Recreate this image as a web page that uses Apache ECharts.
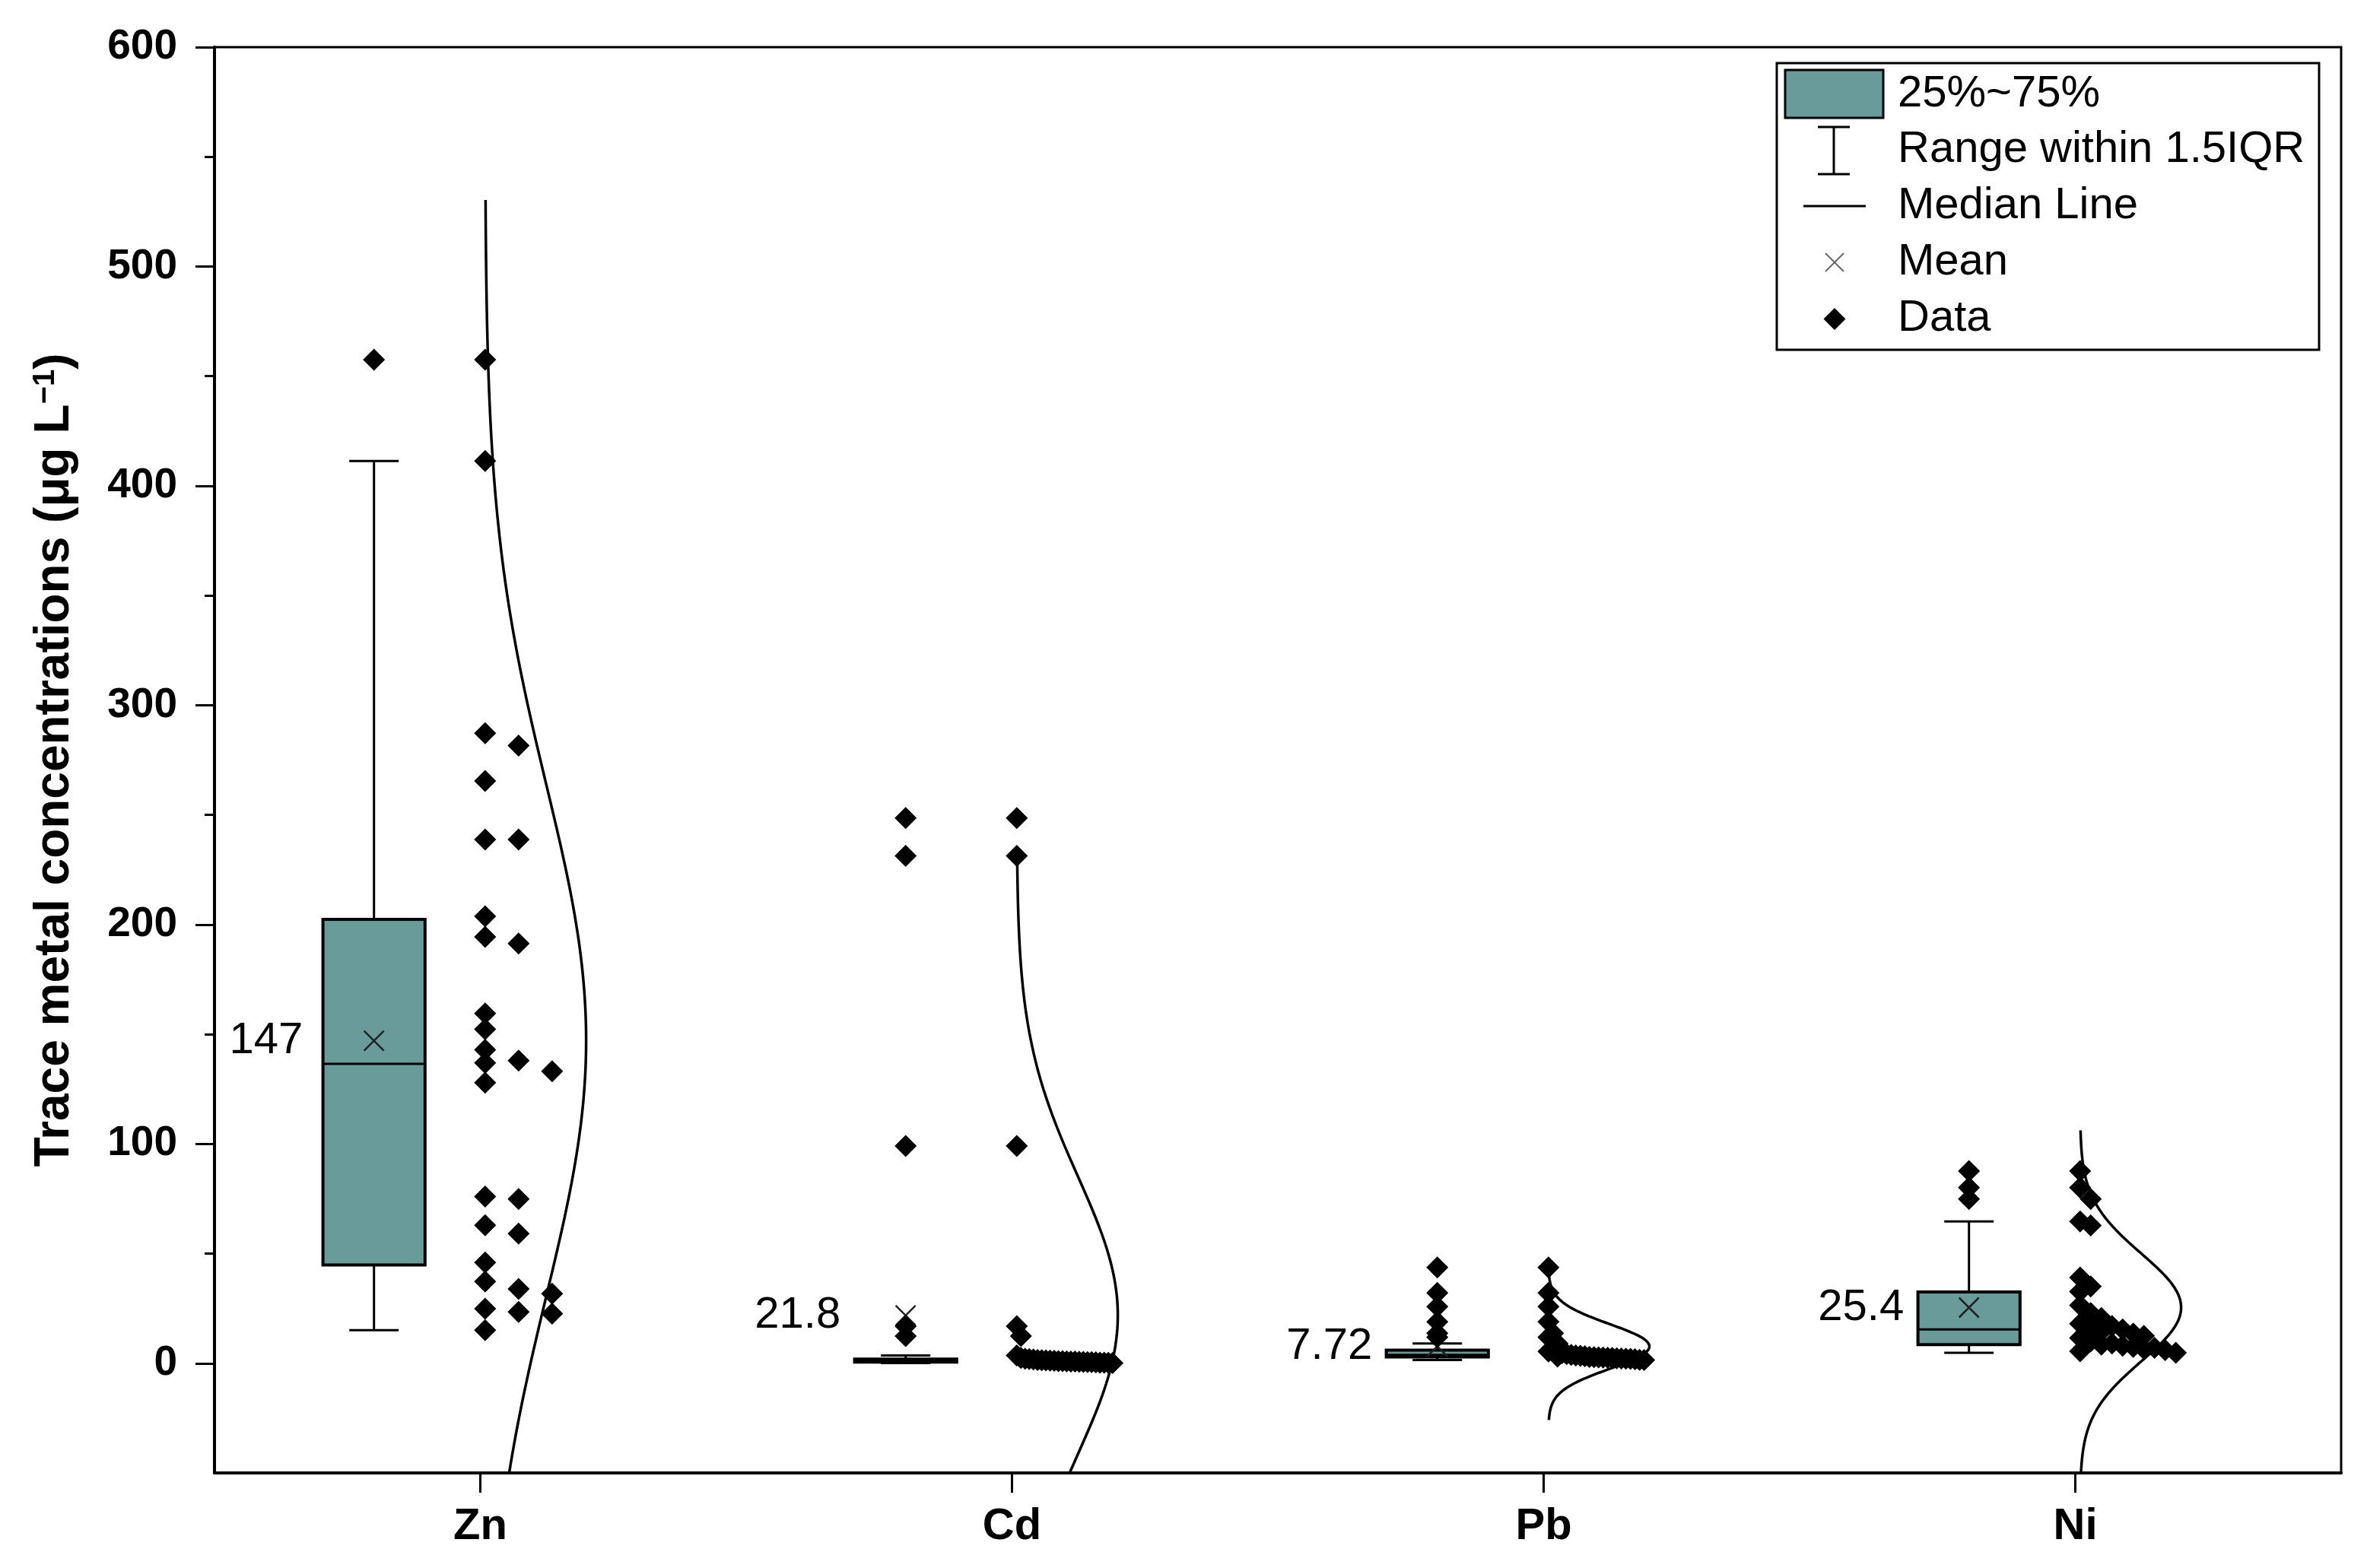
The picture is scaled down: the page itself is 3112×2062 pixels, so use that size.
<!DOCTYPE html>
<html>
<head>
<meta charset="utf-8">
<script src="https://cdn.jsdelivr.net/npm/echarts@6/dist/echarts.min.js"></script>
<style>
html,body{margin:0;padding:0;background:#fff;}
#chart{width:3112px;height:2062px;}
</style>
</head>
<body>
<div id="chart"></div>
<script>
// ---------------- data ----------------
const categories = ['Zn', 'Cd', 'Pb', 'Ni'];
const znValues = [457.5, 411.3, 287.2, 281.6, 265.5, 238.8, 238.8, 203.8, 194.4, 191.4, 159.5, 152.3, 142.9, 138.0, 136.9, 133.1, 127.9, 76.0, 74.9, 62.9, 59.1, 45.9, 37.3, 33.9, 31.7, 24.9, 23.4, 22.6, 15.1];
const cdValues = [248.6, 231.3, 99.1, 16.9, 12.4, 3.6, 2.4, 2.1, 1.9, 1.7, 1.5, 1.4, 1.3, 1.2, 1.1, 1.0, 1.0, 0.9, 0.8, 0.8, 0.7, 0.6, 0.5, 0.5, 0.4, 0.3, 0.3, 0.2, 0.1];
const pbValues = [43.7, 32.1, 25.8, 18.9, 13.7, 11.9, 9.0, 6.5, 5.4, 4.6, 4.2, 3.8, 3.6, 3.4, 3.2, 3.0, 2.9, 2.8, 2.7, 2.6, 2.5, 2.4, 2.3, 2.2, 2.1, 2.0, 1.8, 1.6, 1.5];
const niValues = [87.6, 80.1, 74.9, 64.7, 62.8, 39.1, 35.0, 32.7, 26.4, 22.9, 20.6, 18.0, 17.0, 16.0, 15.4, 14.5, 13.5, 12.5, 11.5, 10.0, 9.0, 8.5, 8.0, 7.5, 7.0, 6.5, 6.0, 5.5, 4.8];

const boxLow    = [15.1, 0.1, 1.5, 4.8];
const boxQ1     = [44.8, 0.5, 2.9, 8.5];
const boxMedian = [136.5, 1.1, 3.8, 15.4];
const boxQ3     = [202.4, 1.9, 6.0, 32.5];
const boxHigh   = [411.3, 3.6, 9.0, 64.7];
const meanValues = [147, 21.8, 7.72, 25.4];
const meanLabels = ['147', '21.8', '7.72', '25.4'];

const yTickValues = [0, 100, 200, 300, 400, 500, 600];
const yMinorTickValues = [50, 150, 250, 350, 450, 550];
const legendLabels = ['25%~75%', 'Range within 1.5IQR', 'Median Line', 'Mean', 'Data'];
const yTitle = 'Trace metal concentrations (μg L';
const yTitleSup = '−1';

// ---------------- layout / style constants ----------------
const groups = [znValues, cdValues, pbValues, niValues];
const FONT = '"Liberation Sans", Arial, Helvetica, sans-serif';
const TEAL = '#699b9a';
const BOX_OFF = -0.2, BOX_HALF = 0.096, CAP_HALF = 0.0465;
const SWARM_X0 = 0.009, SWARM_STEP = 0.063, SWARM_MAXW = 0.18, MIN_DIST = 6;
const CURVE_X0 = 0.009, CURVE_AMP = 0.19, CURVE_Z = 3.29;
const LABEL_OFF = -0.403;

// beeswarm placement computed from the values
function swarm(values, idx) {
  const sorted = values.slice().sort((a, b) => b - a);
  const cols = [];
  const assign = [];
  for (const v of sorted) {
    let k = 0;
    while (k < cols.length && cols[k] - v < MIN_DIST) k++;
    cols[k] = v;
    assign.push([v, k]);
  }
  const maxK = Math.max(...assign.map(a => a[1]));
  const step = maxK > 0 ? Math.min(SWARM_STEP, SWARM_MAXW / maxK) : SWARM_STEP;
  return assign.map(([v, k]) => [idx + SWARM_X0 + k * step, v]);
}

// fitted normal curve (from data mean / sd), drawn as half-violin
function normalCurve(values, idx) {
  const n = values.length;
  const m = values.reduce((a, b) => a + b, 0) / n;
  const sd = Math.sqrt(values.reduce((a, b) => a + (b - m) * (b - m), 0) / (n - 1));
  const pts = [];
  const N = 400;
  for (let j = 0; j <= N; j++) {
    const y = m - CURVE_Z * sd + (2 * CURVE_Z * sd) * j / N;
    const z = (y - m) / sd;
    pts.push([idx + CURVE_X0 + CURVE_AMP * Math.exp(-0.5 * z * z), y]);
  }
  return pts;
}

const boxData = categories.map((c, i) => [i, boxLow[i], boxQ1[i], boxMedian[i], boxQ3[i], boxHigh[i], meanValues[i]]);
const outlierData = [];
groups.forEach((vals, i) => {
  vals.forEach(v => { if (v > boxHigh[i] || v < boxLow[i]) outlierData.push([i + BOX_OFF, v]); });
});
const swarmData = [];
groups.forEach((vals, i) => swarm(vals, i).forEach(p => swarmData.push(p)));

const series = [];
series.push({
  type: 'custom',
  xAxisIndex: 1, yAxisIndex: 0,
  z: 2, clip: true,
  encode: { x: 0, y: [1, 2, 3, 4, 5] },
  data: boxData,
  renderItem: function (params, api) {
    const i = api.value(0);
    const xc = i + BOX_OFF;
    const c = api.coord([xc, 0])[0];
    const l = api.coord([xc - BOX_HALF, 0])[0];
    const r = api.coord([xc + BOX_HALF, 0])[0];
    const cl = api.coord([xc - CAP_HALF, 0])[0];
    const cr = api.coord([xc + CAP_HALF, 0])[0];
    const yLow = api.coord([xc, api.value(1)])[1];
    const yQ1 = api.coord([xc, api.value(2)])[1];
    const yMed = api.coord([xc, api.value(3)])[1];
    const yQ3 = api.coord([xc, api.value(4)])[1];
    const yHigh = api.coord([xc, api.value(5)])[1];
    const yMean = api.coord([xc, api.value(6)])[1];
    const lx = api.coord([i + LABEL_OFF, 0])[0];
    const lw = { stroke: '#000', lineWidth: 3 };
    const h = 13;
    return {
      type: 'group',
      children: [
        { type: 'line', shape: { x1: c, y1: yLow, x2: c, y2: yQ1 }, style: lw },
        { type: 'line', shape: { x1: c, y1: yQ3, x2: c, y2: yHigh }, style: lw },
        { type: 'line', shape: { x1: cl, y1: yLow, x2: cr, y2: yLow }, style: lw },
        { type: 'line', shape: { x1: cl, y1: yHigh, x2: cr, y2: yHigh }, style: lw },
        { type: 'rect', shape: { x: l, y: yQ3, width: r - l, height: yQ1 - yQ3 }, style: { fill: TEAL, stroke: '#000', lineWidth: 4 } },
        { type: 'line', shape: { x1: l, y1: yMed, x2: r, y2: yMed }, style: lw },
        { type: 'line', shape: { x1: c - h, y1: yMean - h, x2: c + h, y2: yMean + h }, style: { stroke: '#222', lineWidth: 2.5 } },
        { type: 'line', shape: { x1: c - h, y1: yMean + h, x2: c + h, y2: yMean - h }, style: { stroke: '#222', lineWidth: 2.5 } },
        { type: 'text', style: { text: meanLabels[params.dataIndex], x: lx, y: yMean, fill: '#000', fontSize: 58, fontFamily: FONT, align: 'center', verticalAlign: 'middle' } }
      ]
    };
  }
});
groups.forEach((vals, i) => {
  series.push({
    type: 'line', xAxisIndex: 1, yAxisIndex: 0, z: 2,
    data: normalCurve(vals, i), showSymbol: false, symbol: 'none', clip: true,
    lineStyle: { color: '#000', width: 3.5 }, silent: true
  });
});
series.push({
  type: 'scatter', xAxisIndex: 1, yAxisIndex: 0, z: 3,
  symbol: 'diamond', symbolSize: 29, data: outlierData,
  itemStyle: { color: '#000', opacity: 1 }
});
series.push({
  type: 'scatter', xAxisIndex: 1, yAxisIndex: 0, z: 3,
  symbol: 'diamond', symbolSize: 29, data: swarmData,
  itemStyle: { color: '#000', opacity: 1 }
});

// legend drawn as graphic
const LX = 2336, LY = 83, LW = 713, LH = 377;
const rowY = [124, 197, 271, 345, 419];
const legendGraphic = [
  { type: 'rect', shape: { x: LX, y: LY, width: LW, height: LH }, style: { fill: '#fff', stroke: '#000', lineWidth: 3 } },
  { type: 'rect', shape: { x: 2347, y: 92, width: 129, height: 63 }, style: { fill: TEAL, stroke: '#000', lineWidth: 3 } },
  { type: 'line', shape: { x1: 2411, y1: 167, x2: 2411, y2: 229 }, style: { stroke: '#000', lineWidth: 3 } },
  { type: 'line', shape: { x1: 2390, y1: 167, x2: 2432, y2: 167 }, style: { stroke: '#000', lineWidth: 3 } },
  { type: 'line', shape: { x1: 2390, y1: 229, x2: 2432, y2: 229 }, style: { stroke: '#000', lineWidth: 3 } },
  { type: 'line', shape: { x1: 2371, y1: 271, x2: 2453, y2: 271 }, style: { stroke: '#000', lineWidth: 3 } },
  { type: 'line', shape: { x1: 2400, y1: 333, x2: 2424, y2: 357 }, style: { stroke: '#666', lineWidth: 2 } },
  { type: 'line', shape: { x1: 2400, y1: 357, x2: 2424, y2: 333 }, style: { stroke: '#666', lineWidth: 2 } },
  { type: 'polygon', shape: { points: [[2412, 405], [2426.5, 419.5], [2412, 434], [2397.5, 419.5]] }, style: { fill: '#000' } }
];
legendLabels.forEach((t, k) => {
  legendGraphic.push({ type: 'text', x: 2495, y: rowY[k], style: { text: t, fill: '#000', fontSize: 58, fontFamily: FONT, verticalAlign: 'middle' } });
});

const chart = echarts.init(document.getElementById('chart'), null, { renderer: 'canvas' });
chart.setOption({
  animation: false,
  backgroundColor: '#fff',
  grid: { left: 282, right: 34, top: 62, bottom: 125, show: true, borderColor: '#000', borderWidth: 3, backgroundColor: 'transparent' },
  xAxis: [
    {
      type: 'category', data: categories, position: 'bottom', gridIndex: 0,
      axisLine: { show: true, onZero: false, lineStyle: { color: '#000', width: 4 } },
      axisTick: { show: true, alignWithLabel: true, length: 26, lineStyle: { color: '#000', width: 3 } },
      axisLabel: { color: '#000', fontSize: 58, fontWeight: 'bold', fontFamily: FONT, margin: 42 },
      splitLine: { show: false }
    },
    { type: 'value', min: -0.5, max: 3.5, show: false, gridIndex: 0, axisLine: { show: false, onZero: false } }
  ],
  yAxis: [
    {
      type: 'value', min: -50, max: 600, position: 'left', gridIndex: 0,
      axisLine: { show: true, onZero: false, lineStyle: { color: '#000', width: 4 } },
      axisTick: { show: true, length: 25, customValues: yTickValues, lineStyle: { color: '#000', width: 3 } },
      axisLabel: { show: true, customValues: yTickValues, color: '#000', fontSize: 55, fontWeight: 'bold', fontFamily: FONT, margin: 49 },
      splitLine: { show: false },
      name: yTitle + '{sup|' + yTitleSup + '})',
      nameLocation: 'middle', nameRotate: 90, nameGap: 178,
      nameTextStyle: {
        color: '#000', fontSize: 64, fontWeight: 'bold', fontFamily: FONT,
        rich: { sup: { fontSize: 40, fontWeight: 'bold', fontFamily: FONT, color: '#000', verticalAlign: 'top', lineHeight: 64 } }
      }
    },
    {
      type: 'value', min: -50, max: 600, position: 'left', gridIndex: 0,
      axisLine: { show: false, onZero: false },
      axisTick: { show: true, length: 13, customValues: yMinorTickValues, lineStyle: { color: '#000', width: 3 } },
      axisLabel: { show: false },
      splitLine: { show: false }
    }
  ],
  series: series,
  graphic: { elements: legendGraphic.map(e => Object.assign({ z: 100 }, e)) }
});
</script>
</body>
</html>
